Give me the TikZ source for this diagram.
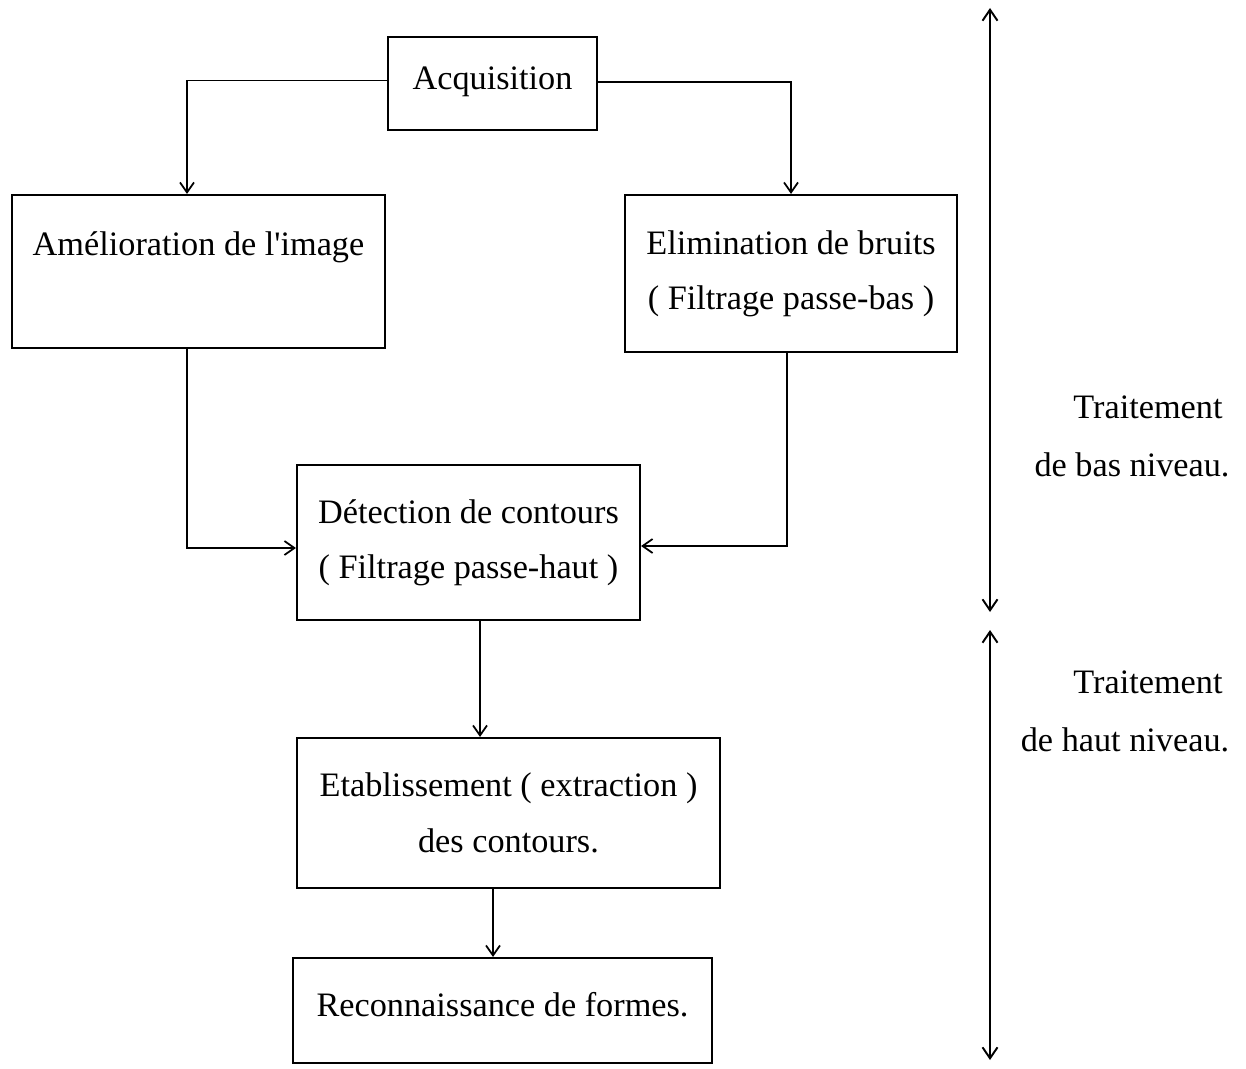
\documentclass[tikz,border=0pt]{standalone}
\usepackage{fontspec}
\setmainfont{Liberation Serif}
\usetikzlibrary{arrows.meta,calc}
\begin{document}
\begin{tikzpicture}[x=0.02cm,y=-0.02cm,
  box/.style={draw,line width=1.2pt,rectangle,inner sep=0pt,align=center,
    font=\fontsize{19.5}{31.5}\selectfont},
  conn/.style={line width=1.1pt,-{Straight Barb[length=2mm,width=2.8mm,line width=1pt]}},
  dbl/.style={line width=1.2pt,{Straight Barb[length=2.2mm,width=3mm,line width=1.1pt]}-{Straight Barb[length=2.2mm,width=3mm,line width=1.1pt]}},
  lab/.style={font=\fontsize{19.5}{31.5}\selectfont,inner sep=0pt}]
\useasboundingbox (0,0) rectangle (1246,1068);
\node[box,minimum width=209*0.02cm,minimum height=93*0.02cm,text depth=0.2cm] (acq) at (492.5,83.5) {Acquisition};
\node[box,minimum width=373*0.02cm,minimum height=153*0.02cm] (am) at (198.5,271.5) {Amélioration de l\textquotesingle image\\\mbox{}};
\node[box,minimum width=332*0.02cm,minimum height=157*0.02cm] (el) at (791,273.5) {Elimination de bruits\\( Filtrage passe-bas )};
\node[box,minimum width=343*0.02cm,minimum height=155*0.02cm] (det) at (468.5,542.5) {Détection de contours\\( Filtrage passe-haut )};
\node[box,minimum width=423*0.02cm,minimum height=150*0.02cm] (etab) at (508.5,813) {Etablissement ( extraction )\\des contours.};
\node[box,minimum width=419*0.02cm,minimum height=105*0.02cm,text depth=0.25cm] (rec) at (502.5,1010.5) {Reconnaissance de formes.};

\coordinate (a1) at ($(am.north)+(-11.5,0)$);
\coordinate (a2) at ($(am.south)+(-11.5,0)$);
\coordinate (e2) at ($(el.south)+(-4,0)$);
\coordinate (d1) at ($(det.south)+(11.5,0)$);
\coordinate (t1) at ($(etab.south)+(-15.5,0)$);
\draw[conn] ($(acq.west)+(0,-3)$) -| (a1);
\draw[conn] ($(acq.east)+(0,-1.5)$) -| (el.north);
\draw[conn] (a2) |- ($(det.west)+(0,5.5)$);
\draw[conn] (e2) |- ($(det.east)+(0,3.5)$);
\draw[conn] (d1) -- (d1 |- etab.north);
\draw[conn] (t1) -- (t1 |- rec.north);

\coordinate (v1) at (990,8);
\coordinate (v2) at (990,612);
\coordinate (v3) at (990,630);
\coordinate (v4) at (990,1060);
\draw[dbl] (v1) -- (v2);
\draw[dbl] (v3) -- (v4);

\node[lab] (l1) at (1148,407) {Traitement};
\node[lab] (l2) at (1132,465) {de bas niveau.};
\node[lab] (l3) at (1148,682) {Traitement};
\node[lab] (l4) at (1125,740) {de haut niveau.};
\end{tikzpicture}
\end{document}
